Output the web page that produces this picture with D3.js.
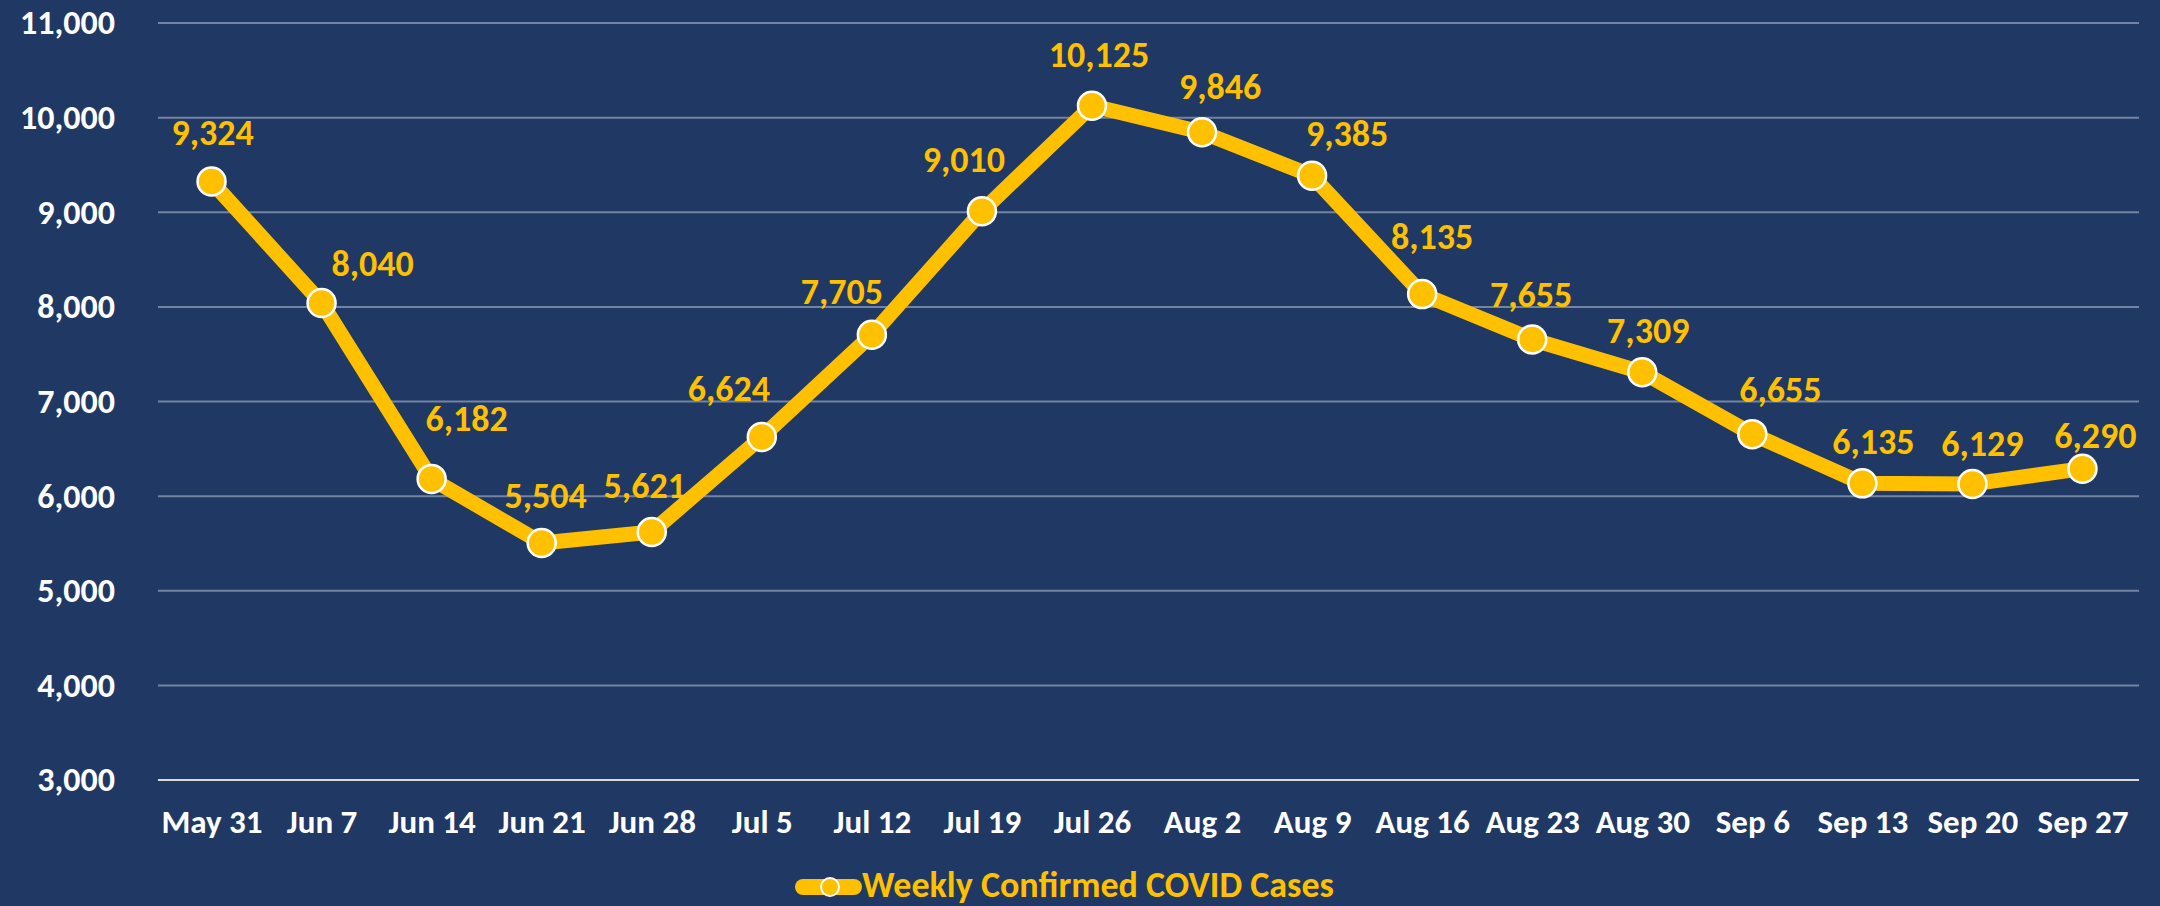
<!DOCTYPE html>
<html>
<head>
<meta charset="utf-8">
<script src="https://cdn.jsdelivr.net/npm/d3@7"></script>
<style>
  html, body { margin: 0; padding: 0; background: #203864; }
  svg text { font-family: Calibri, Carlito, Lato, sans-serif; font-weight: bold; }
</style>
</head>
<body>
<div class="chart"></div>
<script>
// weekly confirmed cases, week ending
var weeks = ["May 31","Jun 7","Jun 14","Jun 21","Jun 28","Jul 5","Jul 12","Jul 19","Jul 26",
  "Aug 2","Aug 9","Aug 16","Aug 23","Aug 30","Sep 6","Sep 13","Sep 20","Sep 27"];
var cases = [9324,8040,6182,5504,5621,6624,7705,9010,10125,9846,9385,8135,7655,7309,6655,6135,6129,6290];
var yTicks = [3000,4000,5000,6000,7000,8000,9000,10000,11000];
var seriesName = "Weekly Confirmed COVID Cases";

// hand placed data labels (like the excel original), px from the marker
var labelShift = [[1,-50],[51,-40],[35,-61],[4,-48],[-7,-47],[-33,-49],[-30,-44],[-18,-52],[7,-52],
  [18,-46],[35,-43],[10,-58],[-1,-45],[6,-42],[28,-45],[11,-42],[10,-41],[13,-34]];

(function(){
  var width = 2160,
    height = 906,
    left = 158, right = 2139,
    top = 23, bottom = 780,
    gold = "#FFC000";

  var svg = d3.select(".chart").append("svg")
    .attr("width", width)
    .attr("height", height);

  svg.append("rect")
    .attr("width", width)
    .attr("height", height)
    .attr("fill", "#203864");

  var x = d3.scalePoint()
    .domain(weeks)
    .range([left - 1.5, right - 1.5])
    .padding(0.5);

  var y = d3.scaleLinear()
    .domain([3000, 11000])
    .range([bottom, top]);

  // gridlines
  svg.append("g")
    .selectAll("line")
    .data(yTicks)
    .enter().append("line")
    .attr("x1", left)
    .attr("x2", right)
    .attr("y1", function(d){ return y(d); })
    .attr("y2", function(d){ return y(d); })
    .attr("stroke", function(d){ return d === 3000 ? "#d9d9d9" : "#7383a2"; })
    .attr("stroke-width", 2);

  var yAxis = svg.append("g")
    .attr("transform", "translate(" + left + ",0)")
    .call(d3.axisLeft(y).tickValues(yTicks).tickFormat(d3.format(",")).tickSize(0).tickPadding(43));
  yAxis.select(".domain").remove();
  yAxis.selectAll("text")
    .attr("fill", "#fff")
    .style("font-size", "34px");

  var xAxis = svg.append("g")
    .attr("transform", "translate(0," + bottom + ")")
    .call(d3.axisBottom(x).tickSize(0).tickPadding(30));
  xAxis.select(".domain").remove();
  xAxis.selectAll("text")
    .attr("fill", "#fff")
    .style("font-size", "33px");

  var line = d3.line()
    .x(function(d, i){ return x(weeks[i]); })
    .y(function(d){ return y(d); });

  svg.append("path")
    .datum(cases)
    .attr("d", line)
    .attr("fill", "none")
    .attr("stroke", gold)
    .attr("stroke-width", 15)
    .attr("stroke-linejoin", "round");

  svg.append("g")
    .selectAll("circle")
    .data(cases)
    .enter().append("circle")
    .attr("cx", function(d, i){ return x(weeks[i]); })
    .attr("cy", function(d){ return y(d); })
    .attr("r", 14)
    .attr("fill", gold)
    .attr("stroke", "#fff")
    .attr("stroke-width", 2.5);

  svg.append("g")
    .selectAll("text")
    .data(cases)
    .enter().append("text")
    .attr("x", function(d, i){ return x(weeks[i]) + labelShift[i][0]; })
    .attr("y", function(d, i){ return y(d) + labelShift[i][1]; })
    .attr("dy", "0.36em")
    .attr("text-anchor", "middle")
    .attr("fill", gold)
    .style("font-size", "36px")
    .text(function(d){ return d3.format(",")(d); });

  // legend
  var legend = svg.append("g")
    .attr("transform", "translate(795,887)");
  legend.append("line")
    .attr("x1", 8).attr("x2", 59)
    .attr("stroke", gold)
    .attr("stroke-width", 16)
    .attr("stroke-linecap", "round");
  legend.append("circle")
    .attr("cx", 35)
    .attr("r", 9)
    .attr("fill", gold)
    .attr("stroke", "#fff")
    .attr("stroke-width", 2);
  legend.append("text")
    .attr("x", 67)
    .attr("y", 10)
    .attr("fill", gold)
    .style("font-size", "36px")
    .text(seriesName);
})();
</script>
</body>
</html>
